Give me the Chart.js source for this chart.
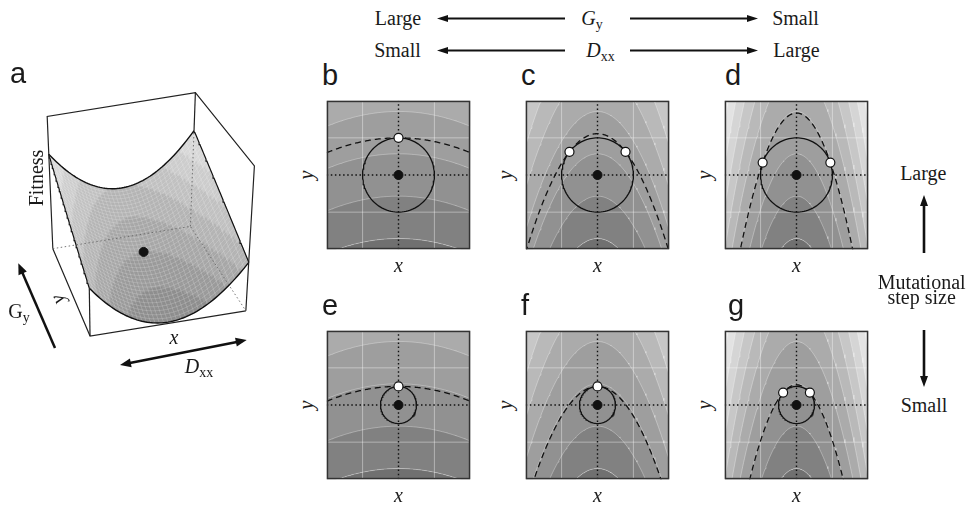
<!DOCTYPE html>
<html>
<head>
<meta charset="utf-8">
<script src="https://cdn.jsdelivr.net/npm/chart.js@4.4.1/dist/chart.umd.min.js"></script>
<style>
  body { margin: 0; background: #fff; }
  #fig { position: relative; width: 968px; height: 507px; overflow: hidden; }
  #fig canvas, #fig svg { position: absolute; }
  .t { position: absolute; white-space: nowrap; line-height: 1; font-family: "Liberation Serif", "Times New Roman", serif; font-size: 20px; color: #1a1a1a; }
  .t i { font-style: italic; }
  .t .s { font-size: 14px; position: relative; top: 4px; font-style: normal; }
  .p { font-family: "Liberation Sans", Arial, sans-serif; font-size: 29px; }
</style>
</head>
<body>
<div id="fig"></div>
<script>
// model: contours of y + a*x^2, step circle of radius r
const panelNames = ['b', 'c', 'd', 'e', 'f', 'g'];
const curvature = [0.1, 0.8, 1.5, 0.1, 0.8, 1.5];
const stepRadius = [1, 1, 1, 0.5, 0.5, 0.5];
const contourLevels = [-1.71, -0.57, 0.57, 1.71, 2.85, 3.99, 5.13, 6.27, 7.41];
const bandGreys = ['#707070', '#818181', '#919191', '#9e9e9e', '#ababab', '#b9b9b9', '#c7c7c7', '#d5d5d5', '#e3e3e3', '#efefef'];
const gridTicks = [-1, 1];

// panel a surface: z = base + slopeY*y + curveX*x^2 on the unit box
const surfaceBase = 0.2;
const surfaceSlopeY = 0.19;
const surfaceCurveX = 0.34;
const surfaceLevels = [0.1, 0.2, 0.3, 0.4, 0.5, 0.6, 0.7];
const surfaceGreys = ['#8d8d8d', '#999999', '#a6a6a6', '#b3b3b3', '#c0c0c0', '#cccccc', '#d7d7d7', '#e1e1e1'];

// layout
const fig = document.getElementById('fig');
const panelBoxes = [[321, 95], [520, 95], [719, 95], [321, 325], [520, 325], [719, 325]];
const panelW = 155, panelH = 160;

function makeCanvas(left, top, w, h) {
    const c = document.createElement('canvas');
    c.width = w; c.height = h;
    c.style.left = left + 'px'; c.style.top = top + 'px';
    c.style.width = w + 'px'; c.style.height = h + 'px';
    fig.appendChild(c);
    return c;
}

function addText(html, x, y, cls, rot) {
    const el = document.createElement('div');
    el.className = 't' + (cls ? ' ' + cls : '');
    el.innerHTML = html;
    el.style.left = x + 'px';
    el.style.top = y + 'px';
    el.style.transform = 'translate(-50%,-50%)' + (rot ? ' rotate(' + rot + 'deg)' : '');
    fig.appendChild(el);
}

function addLetter(txt, x, baseline) {
    const el = document.createElement('div');
    el.className = 't p';
    el.textContent = txt;
    el.style.left = x + 'px';
    el.style.top = (baseline - 24.5) + 'px';
    fig.appendChild(el);
}

// arrows
const svgNS = 'http://www.w3.org/2000/svg';
const svg = document.createElementNS(svgNS, 'svg');
svg.setAttribute('width', 968); svg.setAttribute('height', 507);
svg.style.left = '0px'; svg.style.top = '0px';
fig.appendChild(svg);

function head(x, y, ux, uy, len, hw) {
    const p = document.createElementNS(svgNS, 'polygon');
    const bx = x - ux * len, by = y - uy * len;
    p.setAttribute('points', x + ',' + y + ' ' + (bx - uy * hw) + ',' + (by + ux * hw) + ' ' + (bx + uy * hw) + ',' + (by - ux * hw));
    p.setAttribute('fill', '#111');
    svg.appendChild(p);
}

function arrow(x1, y1, x2, y2, w, len, hw, both) {
    const d = Math.hypot(x2 - x1, y2 - y1), ux = (x2 - x1) / d, uy = (y2 - y1) / d;
    const l = document.createElementNS(svgNS, 'line');
    l.setAttribute('x1', both ? x1 + ux * (len - 1) : x1);
    l.setAttribute('y1', both ? y1 + uy * (len - 1) : y1);
    l.setAttribute('x2', x2 - ux * (len - 1));
    l.setAttribute('y2', y2 - uy * (len - 1));
    l.setAttribute('stroke', '#111');
    l.setAttribute('stroke-width', w);
    svg.appendChild(l);
    head(x2, y2, ux, uy, len, hw);
    if (both) head(x1, y1, -ux, -uy, len, hw);
}

// ---------- panels b-g ----------
function parabola(level, a) {
    const pts = [];
    for (let i = 0; i <= 160; i++) {
        const x = -2 + i * 0.025;
        pts.push({ x: x, y: level - a * x * x });
    }
    return pts;
}

function circle(r) {
    const pts = [];
    for (let i = 0; i <= 120; i++) {
        const t = i / 120 * 2 * Math.PI;
        pts.push({ x: r * Math.sin(t), y: r * Math.cos(t) });
    }
    return pts;
}

// where the step circle first touches a contour of y + a*x^2
function touch(a, r) {
    if (2 * a * r <= 1) return { level: r, pts: [{ x: 0, y: r }] };
    const c = 1 / (2 * a * r), s = Math.sqrt(1 - c * c);
    return { level: r * c + a * r * r * s * s, pts: [{ x: -r * s, y: r * c }, { x: r * s, y: r * c }] };
}

const frame = {
    id: 'frame',
    afterDraw(chart) {
        const { ctx, chartArea: a } = chart;
        ctx.save();
        ctx.strokeStyle = '#333';
        ctx.lineWidth = 1.5;
        ctx.strokeRect(a.left + 0.75, a.top + 0.75, a.right - a.left - 1.5, a.bottom - a.top - 1.5);
        ctx.restore();
    }
};

panelNames.forEach((name, i) => {
    const a = curvature[i], r = stepRadius[i];
    const tp = touch(a, r);
    const ds = [];
    ds.push({ data: parabola(contourLevels[0], a), fill: 'start', backgroundColor: bandGreys[0], borderWidth: 0, order: 200 });
    contourLevels.forEach((lv, k) => {
        ds.push({ data: parabola(lv, a), fill: 'end', backgroundColor: bandGreys[k + 1], borderColor: 'rgba(255,255,255,0.4)', borderWidth: 0.8, order: 190 - k });
    });
    gridTicks.forEach(t => {
        ds.push({ data: [{ x: t, y: -2 }, { x: t, y: 2 }], borderColor: 'rgba(255,255,255,0.4)', borderWidth: 1, order: 30 });
        ds.push({ data: [{ x: -2, y: t }, { x: 2, y: t }], borderColor: 'rgba(255,255,255,0.4)', borderWidth: 1, order: 30 });
    });
    ds.push({ data: [{ x: 0, y: -2 }, { x: 0, y: 2 }], borderColor: '#111', borderWidth: 1.4, borderDash: [1.5, 2.6], order: 20 });
    ds.push({ data: [{ x: -2, y: 0 }, { x: 2, y: 0 }], borderColor: '#111', borderWidth: 1.4, borderDash: [1.5, 2.6], order: 20 });
    ds.push({ data: parabola(tp.level, a), borderColor: '#111', borderWidth: 1.3, borderDash: [6, 4], order: 10 });
    ds.push({ data: circle(r), borderColor: '#111', borderWidth: 1.3, order: 5 });
    ds.push({ data: tp.pts, showLine: false, pointRadius: 4.5, pointBackgroundColor: '#fff', pointBorderColor: '#111', pointBorderWidth: 1.2, order: 2 });
    ds.push({ data: [{ x: 0, y: 0 }], showLine: false, pointRadius: 4.5, pointBackgroundColor: '#111', pointBorderColor: '#111', pointBorderWidth: 1, order: 1 });

    const [left, top] = panelBoxes[i];
    new Chart(makeCanvas(left, top, panelW, panelH), {
        type: 'line',
        data: { datasets: ds },
        options: {
            responsive: false,
            animation: false,
            events: [],
            devicePixelRatio: 1,
            layout: { padding: 0 },
            elements: { point: { radius: 0 }, line: { tension: 0 } },
            plugins: { legend: { display: false }, tooltip: { enabled: false } },
            scales: {
                x: { type: 'linear', min: -2, max: 2, display: false },
                y: { type: 'linear', min: -2, max: 2, display: false }
            }
        },
        plugins: [frame]
    });

    const cx = left + panelW / 2, cy = top + panelH / 2;
    const letterX = [322, 521, 725, 322, 521, 728][i];
    addLetter(name, letterX, top - 10);
    addText('<i>x</i>', cx, top + panelH + 10, '', 0);
    addText('<i>y</i>', left - 15, cy, '', -90);
});

// ---------- panel a ----------
function surfaceZ(x, y) {
    return surfaceBase + surfaceSlopeY * y + surfaceCurveX * x * x;
}

// simple view of the unit box: screen steps for x, y, z plus a little depth
const viewX = [79, 12.7], viewY = [-25, 41.5], viewZ = [1.5, 143];
function project(x, y, z) {
    const s = 1 - 0.06 * y + 0.07 * (z - 0.5);
    const zz = z - 0.5;
    return {
        x: s * (x * viewX[0] + y * viewY[0] + zz * viewZ[0]),
        y: s * (x * viewX[1] + y * viewY[1] + zz * viewZ[1])
    };
}

function path3d(pts) {
    return pts.map(p => project(p[0], p[1], p[2]));
}

function surfaceEdge(fixed, value) {
    const pts = [];
    for (let i = 0; i <= 60; i++) {
        const t = -1 + i / 30;
        const x = fixed === 'y' ? t : value, y = fixed === 'y' ? value : t;
        pts.push([x, y, surfaceZ(x, y)]);
    }
    return path3d(pts);
}

const surfaceLayer = {
    id: 'surfaceLayer',
    beforeDatasetsDraw(chart) {
        const ctx = chart.ctx, sx = chart.scales.x, sy = chart.scales.y;
        const px = (u, v) => {
            const p = project(u, v, surfaceZ(u, v));
            return [sx.getPixelForValue(p.x), sy.getPixelForValue(p.y)];
        };
        const n = 72;
        ctx.save();
        ctx.lineWidth = 0.7;
        for (let j = 0; j < n; j++) {
            const v0 = 1 - 2 * j / n, v1 = 1 - 2 * (j + 1) / n;
            for (let i = 0; i < n; i++) {
                const u0 = -1 + 2 * i / n, u1 = -1 + 2 * (i + 1) / n;
                const z = surfaceZ((u0 + u1) / 2, (v0 + v1) / 2);
                let k = 0;
                while (k < surfaceLevels.length && z > surfaceLevels[k]) k++;
                const q = [px(u0, v0), px(u1, v0), px(u1, v1), px(u0, v1)];
                ctx.fillStyle = ctx.strokeStyle = surfaceGreys[k];
                ctx.beginPath();
                ctx.moveTo(q[0][0], q[0][1]);
                for (let m = 1; m < 4; m++) ctx.lineTo(q[m][0], q[m][1]);
                ctx.closePath();
                ctx.fill();
                ctx.stroke();
            }
        }
        ctx.strokeStyle = 'rgba(255,255,255,0.3)';
        ctx.lineWidth = 0.6;
        const m = 36;
        for (let i = 0; i <= m; i++) {
            const t = -1 + 2 * i / m;
            ctx.beginPath();
            for (let s = 0; s <= 40; s++) {
                const p = px(t, -1 + 2 * s / 40);
                s ? ctx.lineTo(p[0], p[1]) : ctx.moveTo(p[0], p[1]);
            }
            ctx.stroke();
            ctx.beginPath();
            for (let s = 0; s <= 40; s++) {
                const p = px(-1 + 2 * s / 40, t);
                s ? ctx.lineTo(p[0], p[1]) : ctx.moveTo(p[0], p[1]);
            }
            ctx.stroke();
        }
        ctx.restore();
    }
};

const solid = { borderColor: '#222', borderWidth: 1.2 };
const hidden = { borderColor: '#666', borderWidth: 0.9, borderDash: [1.5, 2.5] };
const zBackRight = surfaceZ(1, 1), zFrontLeft = surfaceZ(-1, -1);
const aSets = [
    Object.assign({ data: path3d([[-1, 1, 0], [1, 1, 0], [1, -1, 0]]) }, hidden),
    Object.assign({ data: path3d([[1, 1, 0], [1, 1, zBackRight]]) }, hidden),
    Object.assign({ data: path3d([[1, 1, zBackRight], [1, 1, 1]]) }, solid),
    Object.assign({ data: path3d([[-1, 1, 0], [-1, 1, 1], [1, 1, 1], [1, -1, 1], [1, -1, 0]]) }, solid),
    Object.assign({ data: path3d([[-1, 1, 0], [-1, -1, 0], [1, -1, 0]]) }, solid),
    Object.assign({ data: path3d([[-1, -1, 0], [-1, -1, zFrontLeft]]) }, solid),
    { data: surfaceEdge('y', 1), borderColor: '#111', borderWidth: 1.4 },
    { data: surfaceEdge('y', -1), borderColor: '#111', borderWidth: 1.4 },
    { data: surfaceEdge('x', -1), borderColor: '#111', borderWidth: 1.2 },
    { data: surfaceEdge('x', 1), borderColor: '#111', borderWidth: 1.2 },
    { data: path3d([[0, 0, surfaceZ(0, 0)]]), showLine: false, pointRadius: 4.5, pointBackgroundColor: '#111', pointBorderColor: '#111' }
];

new Chart(makeCanvas(0, 50, 290, 350), {
    type: 'line',
    data: { datasets: aSets },
    options: {
        responsive: false,
        animation: false,
        events: [],
        devicePixelRatio: 1,
        layout: { padding: 0 },
        elements: { point: { radius: 0 }, line: { tension: 0 } },
        plugins: { legend: { display: false }, tooltip: { enabled: false } },
        scales: {
            x: { type: 'linear', min: -144, max: 146, display: false },
            y: { type: 'linear', min: -189.2, max: 160.8, display: false }
        }
    },
    plugins: [surfaceLayer]
});

addLetter('a', 10, 83);
addText('Fitness', 35.5, 178, '', -90);
addText('G<span class="s">y</span>', 19, 311, '', 0);
addText('<i>y</i>', 57, 300, '', -113);
addText('<i>x</i>', 174, 337, '', 0);
addText('<i>D</i><span class="s">xx</span>', 199, 366, '', 0);
arrow(55, 348, 18.3, 263.3, 2.5, 11, 4.5, false);
arrow(120, 365, 246.7, 340, 2.5, 11, 4.5, true);

// top legend of the G_y / D_xx direction
addText('Large', 398, 18.3, '', 0);
addText('<i>G</i><span class="s">y</span>', 592, 18.3, '', 0);
addText('Small', 795.5, 18.3, '', 0);
addText('Small', 397.5, 50, '', 0);
addText('<i>D</i><span class="s">xx</span>', 600.5, 50, '', 0);
addText('Large', 796.5, 50, '', 0);
arrow(565, 18.5, 437, 18.5, 2, 11, 3.6, false);
arrow(630, 18.5, 758, 18.5, 2, 11, 3.6, false);
arrow(565, 50.5, 437, 50.5, 2, 11, 3.6, false);
arrow(630, 50.5, 758, 50.5, 2, 11, 3.6, false);

// mutational step size on the right
addText('Large', 923.3, 172.6, '', 0);
addText('Mutational', 921.7, 281.6, '', 0);
addText('step size', 921.7, 296.5, '', 0);
addText('Small', 924, 405, '', 0);
arrow(924, 253, 924, 195, 2.6, 11, 4, false);
arrow(924, 330, 924, 387, 2.6, 11, 4, false);
</script>
</body>
</html>
